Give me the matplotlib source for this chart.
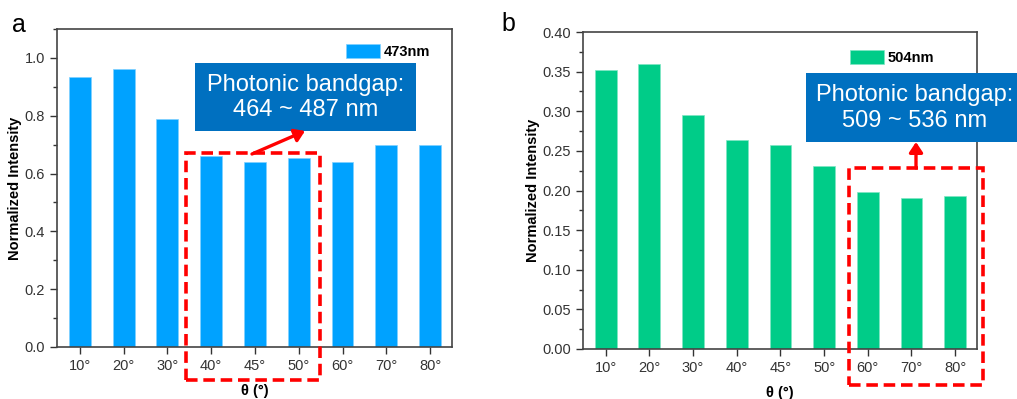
import matplotlib
matplotlib.use("Agg")
import matplotlib.pyplot as plt
from matplotlib.patches import Rectangle, FancyArrowPatch
from matplotlib.ticker import MultipleLocator, FormatStrFormatter

plt.rcParams['font.family'] = ['Liberation Sans', 'DejaVu Sans']

angles = ['10°', '20°', '30°', '40°', '45°', '50°', '60°', '70°', '80°']
vals_a = [0.933, 0.961, 0.789, 0.662, 0.640, 0.653, 0.640, 0.700, 0.700]
vals_b = [0.352, 0.359, 0.295, 0.264, 0.258, 0.231, 0.198, 0.191, 0.193]
label_a = '473nm'
label_b = '504nm'
box_a = 'Photonic bandgap:\n464 ~ 487 nm'
box_b = 'Photonic bandgap:\n509 ~ 536 nm'

W, H = 1017, 399
fig = plt.figure(figsize=(W / 100, H / 100), dpi=100)

def fx(px):
    return px / W

def fy(py):
    return 1 - py / H

def axes_px(l, t, r, b):
    return [fx(l), fy(b), fx(r) - fx(l), fy(t) - fy(b)]

ax1 = fig.add_axes(axes_px(57, 29, 452, 347))
ax2 = fig.add_axes(axes_px(583, 32, 977, 349))

blue = '#00A2FF'
green = '#00CC88'
boxc = '#0070C0'
tickc = '#333333'

def style(ax, vals, color, edge, ylim, major, minor, fmt, lab, leg_xy):
    x = list(range(1, len(vals) + 1))
    ax.bar(x, vals, width=0.5, color=color, edgecolor=edge,
           linewidth=0.5, label=lab, zorder=2)
    ax.set_xlim(0.48, 9.5)
    ax.set_ylim(*ylim)
    ax.set_xticks(x)
    ax.set_xticklabels(angles)
    ax.yaxis.set_major_locator(MultipleLocator(major))
    ax.yaxis.set_minor_locator(MultipleLocator(minor))
    ax.yaxis.set_major_formatter(FormatStrFormatter(fmt))
    ax.tick_params(axis='both', which='major', direction='out', length=5, width=1,
                   labelsize=10.5, labelcolor=tickc, color='#333333')
    ax.tick_params(axis='y', which='minor', direction='out', length=3, width=1, color='#333333')
    ax.tick_params(axis='x', which='minor', bottom=False)
    for s in ax.spines.values():
        s.set_color('#444444')
        s.set_linewidth(1.2)
    ax.set_ylabel('Normalized Intensity', fontsize=10.5, fontweight='bold', labelpad=2)
    ax.set_xlabel('θ (°)', fontsize=10.5, fontweight='bold', labelpad=8)
    ax.legend(loc='center left', bbox_to_anchor=(fx(leg_xy[0]), fy(leg_xy[1])),
              bbox_transform=fig.transFigure, frameon=False,
              prop={'weight': 'bold', 'size': 10.5}, handlelength=2.3, handleheight=1.15,
              handletextpad=0.3, borderpad=0, borderaxespad=0)

style(ax1, vals_a, blue, '#7fd0ff', (0, 1.1), 0.2, 0.1, '%.1f', label_a, (346, 51.5))
style(ax2, vals_b, green, '#80e6c4', (0, 0.40), 0.05, 0.025, '%.2f', label_b, (850, 57.5))

# panel labels
fig.text(fx(12), fy(25), 'a', fontsize=18, va='center', ha='left')
fig.text(fx(501), fy(24), 'b', fontsize=18, va='center', ha='left')

def rect_px(l, t, r, b, **kw):
    rct = Rectangle((fx(l), fy(b)), fx(r) - fx(l), fy(t) - fy(b), transform=fig.transFigure, **kw)
    fig.add_artist(rct)

# panel a annotations
rect_px(186, 153, 320, 380, fill=False, edgecolor='#FF0000', linewidth=2.6,
        linestyle=(0, (3.2, 1.6)), zorder=5)
rect_px(195, 63, 416, 131, facecolor=boxc, edgecolor='none', zorder=5)
fig.text(fx(305.5), fy(97.5), box_a, color='white', fontsize=17, ha='center', va='center',
         linespacing=1.2, zorder=6)
fig.add_artist(FancyArrowPatch((fx(252), fy(154)), (fx(305), fy(131)), transform=fig.transFigure,
                               arrowstyle='-|>,head_length=6,head_width=4', color='#FF0000',
                               linewidth=2.4, zorder=6, shrinkA=0, shrinkB=0))

# panel b annotations
rect_px(849, 168, 983, 385, fill=False, edgecolor='#FF0000', linewidth=2.6,
        linestyle=(0, (3.2, 1.6)), zorder=5)
rect_px(806, 73, 1017, 142, facecolor=boxc, edgecolor='none', zorder=5)
fig.text(fx(915), fy(108), box_b, color='white', fontsize=17, ha='center', va='center',
         linespacing=1.2, zorder=6)
fig.add_artist(FancyArrowPatch((fx(916), fy(168)), (fx(916), fy(142)), transform=fig.transFigure,
                               arrowstyle='-|>,head_length=6,head_width=4', color='#FF0000',
                               linewidth=2.4, zorder=6, shrinkA=0, shrinkB=0))

fig.savefig('out.png', dpi=100)
